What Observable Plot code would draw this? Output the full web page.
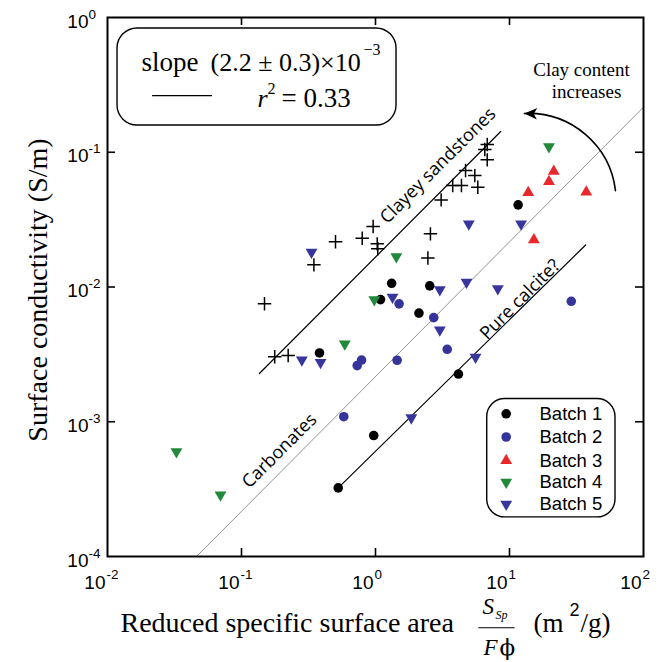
<!DOCTYPE html>
<html><head><meta charset="utf-8">
<script src="https://cdn.jsdelivr.net/npm/d3@7"></script>
<script src="https://cdn.jsdelivr.net/npm/@observablehq/plot@0.6"></script>
<style>html,body{margin:0;padding:0;background:#fff;}</style>
</head><body><div id="chart"></div>
<script>
// ---------- data ----------
const batch1X = [11.6, 1.32, 2.54, 1.09, 2.11, 0.382, 4.16, 0.97, 0.527];
const batch1Y = [0.0407, 0.01065, 0.0102, 0.00806, 0.0064, 0.00324, 0.00226, 0.00079, 0.000323];

const batch2X = [28.9, 1.50, 2.72, 3.43, 1.45, 0.787, 0.73, 0.58];
const batch2Y = [0.00783, 0.0075, 0.00593, 0.00345, 0.00286, 0.00287, 0.00261, 0.00109];

const batch3X = [21.4, 19.7, 13.8, 37.4, 15.2];
const batch3Y = [0.0723, 0.0606, 0.0502, 0.0507, 0.0224];

const batch4X = [19.7, 1.43, 0.98, 0.59, 0.0327, 0.0697];
const batch4Y = [0.110, 0.0168, 0.00806, 0.00378, 0.0006, 0.000286];

const batch5X = [0.333, 4.97, 12.2, 4.78, 8.18, 3.02, 1.34, 3.02, 5.58, 0.282, 0.389, 1.85];
const batch5Y = [0.0181, 0.0294, 0.0294, 0.01084, 0.00973, 0.00957, 0.0084, 0.00481, 0.00301, 0.00288, 0.00276, 0.00107];

const sandX = [6.82, 6.54, 6.82, 4.70, 5.51, 3.77, 4.38, 5.80, 3.09, 2.57, 2.46, 0.96, 0.796, 0.503, 1.03, 1.04, 0.347, 0.1485, 0.177, 0.223];
const sandY = [0.114, 0.1047, 0.0878, 0.0731, 0.0671, 0.0566, 0.0566, 0.0550, 0.0443, 0.0248, 0.0164, 0.0281, 0.0230, 0.0217, 0.0209, 0.0192, 0.0146, 0.0075, 0.00304, 0.0031];

// trend lines (end points)
const clayeyLineX = [0.136, 8.6];
const clayeyLineY = [0.00228, 0.1425];
const carbonateLineX = [0.0462, 100];
const carbonateLineY = [0.0001, 0.216];
const calciteLineX = [0.527, 37];
const calciteLineY = [0.000323, 0.0205];

const batchNames = ["Batch 1", "Batch 2", "Batch 3", "Batch 4", "Batch 5"];
const batchColors = ["#000000", "#35349a", "#e8282b", "#22883a", "#38369c"];
const batchShapes = ["circle", "circle", "up", "down", "down"];

const xTicks = [0.01, 0.1, 1, 10, 100];
const yTicks = [0.0001, 0.001, 0.01, 0.1, 1];

const lineLabels = ["Clayey sandstones", "Carbonates", "Pure calcite?"];
const lineLabelX = [2.92, 0.192, 12.0];
const lineLabelY = [0.0796, 0.00061, 0.0081];

const arrowStart = [61.8, 0.0519];
const arrowEnd = [12.9, 0.194];

const slopeBoxX = [0.01188, 1.435];
const slopeBoxY = [0.1579, 0.8286];
const slopeSampleX = [0.0217, 0.0608];
const slopeSampleY = 0.2636;
const legendBoxX = [6.82, 61.8];
const legendBoxY = [0.000195, 0.001476];
const fractionBarX = [5.9, 11.0];
const fractionBarY = 0.0000296;

// ---------- build tables ----------
const batchXs = [batch1X, batch2X, batch3X, batch4X, batch5X];
const batchYs = [batch1Y, batch2Y, batch3Y, batch4Y, batch5Y];
const sand = sandX.map((x, i) => ({x, y: sandY[i]}));
const lines = [
  {X: clayeyLineX, Y: clayeyLineY, stroke: "#000", w: 1.2},
  {X: carbonateLineX, Y: carbonateLineY, stroke: "#777", w: 0.8},
  {X: calciteLineX, Y: calciteLineY, stroke: "#000", w: 1.2}
];

const s3 = Math.sqrt(3);
const downTriangle = {
  draw(ctx, size) {
    const y = Math.sqrt(size / (s3 * 3));
    ctx.moveTo(0, y * 2);
    ctx.lineTo(-s3 * y, -y);
    ctx.lineTo(s3 * y, -y);
    ctx.closePath();
  }
};
const leftHead = {
  draw(ctx) {
    ctx.moveTo(0, 0);
    ctx.lineTo(13, -5.5);
    ctx.lineTo(9.5, 0.3);
    ctx.lineTo(12.5, 6);
    ctx.closePath();
  }
};
function symbolOf(k) { return k === "circle" ? "circle" : k === "up" ? "triangle" : downTriangle; }
function rOf(k) { return k === "circle" ? 4.8 : 4.4; }

const serif = "Liberation Serif, Times New Roman, serif";
const sans = "Liberation Sans, Arial, sans-serif";
const labelSans = "Open Sans, Noto Sans, sans-serif";

const marks = [];

// trend lines
for (const L of lines) {
  marks.push(Plot.line(L.X.map((x, i) => ({x, y: L.Y[i]})), {x: "x", y: "y", stroke: L.stroke, strokeWidth: L.w}));
}
// line labels
marks.push(Plot.text(lineLabels.map((t, i) => ({t, x: lineLabelX[i], y: lineLabelY[i]})), {
  x: "x", y: "y", text: "t", rotate: -45, fontSize: 18, fontFamily: labelSans, fill: "#000", textAnchor: "middle", lineAnchor: "middle"
}));

// slope box
marks.push(Plot.rect([{x1: slopeBoxX[0], x2: slopeBoxX[1], y1: slopeBoxY[0], y2: slopeBoxY[1]}], {
  x1: "x1", x2: "x2", y1: "y1", y2: "y2", fill: "white", stroke: "#000", strokeWidth: 1.4, rx: 20
}));
marks.push(Plot.ruleY([slopeSampleY], {y: d => d, x1: slopeSampleX[0], x2: slopeSampleX[1], stroke: "#000", strokeWidth: 1.2}));
marks.push(Plot.text(["slope"], {frameAnchor: "top-left", dx: 34, dy: 53, textAnchor: "start", lineAnchor: "bottom", fontSize: 27, fontFamily: serif}));
marks.push(Plot.text(["(2.2 ± 0.3)×10"], {frameAnchor: "top-left", dx: 103, dy: 53, textAnchor: "start", lineAnchor: "bottom", fontSize: 26, fontFamily: serif}));
marks.push(Plot.text(["−3"], {frameAnchor: "top-left", dx: 256, dy: 37, textAnchor: "start", lineAnchor: "bottom", fontSize: 16, fontFamily: serif}));
marks.push(Plot.text(["r"], {frameAnchor: "top-left", dx: 150, dy: 89, textAnchor: "start", lineAnchor: "bottom", fontSize: 26, fontFamily: serif, fontStyle: "italic"}));
marks.push(Plot.text(["2"], {frameAnchor: "top-left", dx: 160, dy: 76, textAnchor: "start", lineAnchor: "bottom", fontSize: 16, fontFamily: serif}));
marks.push(Plot.text(["= 0.33"], {frameAnchor: "top-left", dx: 174, dy: 89, textAnchor: "start", lineAnchor: "bottom", fontSize: 27, fontFamily: serif}));

// "Clay content increases" annotation
marks.push(Plot.arrow([{x1: arrowStart[0], y1: arrowStart[1], x2: arrowEnd[0], y2: arrowEnd[1]}], {
  x1: "x1", y1: "y1", x2: "x2", y2: "y2", bend: -43, headLength: 0, stroke: "#000", strokeWidth: 1.6
}));
marks.push(Plot.dot([arrowEnd], {x: d => d[0], y: d => d[1], symbol: leftHead, fill: "#000", stroke: "none", r: 3}));
marks.push(Plot.text(["Clay content"], {frameAnchor: "top-right", dx: -62, dy: 58, textAnchor: "middle", lineAnchor: "bottom", fontSize: 19, fontFamily: serif}));
marks.push(Plot.text(["increases"], {frameAnchor: "top-right", dx: -57, dy: 80, textAnchor: "middle", lineAnchor: "bottom", fontSize: 19, fontFamily: serif}));

// data points
marks.push(Plot.dot(sand, {x: "x", y: "y", symbol: "plus", r: 4.4, stroke: "#000", strokeWidth: 1.5, fill: "none"}));
batchXs.forEach((X, b) => {
  const data = X.map((x, i) => ({x, y: batchYs[b][i]}));
  marks.push(Plot.dot(data, {x: "x", y: "y", symbol: symbolOf(batchShapes[b]), r: rOf(batchShapes[b]), fill: batchColors[b], stroke: "none"}));
});

// batch legend
marks.push(Plot.rect([{x1: legendBoxX[0], x2: legendBoxX[1], y1: legendBoxY[0], y2: legendBoxY[1]}], {
  x1: "x1", x2: "x2", y1: "y1", y2: "y2", fill: "white", stroke: "#000", strokeWidth: 1.4, rx: 18
}));
const legendRowDy = [-142.7, -119.5, -95.8, -74.3, -52.3];
batchNames.forEach((name, b) => {
  marks.push(Plot.dot([name], {frameAnchor: "bottom-right", dx: -137.3, dy: legendRowDy[b], symbol: symbolOf(batchShapes[b]), r: rOf(batchShapes[b]), fill: batchColors[b], stroke: "none"}));
  marks.push(Plot.text([name], {frameAnchor: "bottom-right", dx: -104, dy: legendRowDy[b], text: d => d, textAnchor: "start", lineAnchor: "middle", fontSize: 18.5, fontFamily: sans}));
});

// frame & inward ticks
marks.push(Plot.frame({stroke: "#000", strokeWidth: 2}));
const innerX = xTicks.slice(1, -1), innerY = yTicks.slice(1, -1);
marks.push(Plot.tickX(innerX, {x: d => d, insetTop: 531, stroke: "#000", strokeWidth: 1.6}));
marks.push(Plot.tickX(innerX, {x: d => d, insetBottom: 531, stroke: "#000", strokeWidth: 1.6}));
marks.push(Plot.tickY(innerY, {y: d => d, insetRight: 528, stroke: "#000", strokeWidth: 1.6}));
marks.push(Plot.tickY(innerY, {y: d => d, insetLeft: 528, stroke: "#000", strokeWidth: 1.6}));

// tick labels
const expo = d => String(Math.round(Math.log10(d)));
marks.push(Plot.text(xTicks, {x: d => d, text: () => "10", frameAnchor: "bottom", dx: -2, dy: 32, textAnchor: "end", lineAnchor: "bottom", fontSize: 19, fontFamily: sans}));
marks.push(Plot.text(xTicks, {x: d => d, text: expo, frameAnchor: "bottom", dx: -1, dy: 22, textAnchor: "start", lineAnchor: "bottom", fontSize: 13.5, fontFamily: sans}));
marks.push(Plot.text(yTicks, {y: d => d, text: () => "10", frameAnchor: "left", dx: -19, dy: 10, textAnchor: "end", lineAnchor: "bottom", fontSize: 19, fontFamily: sans}));
marks.push(Plot.text(yTicks, {y: d => d, text: expo, frameAnchor: "left", dx: -19, dy: 1, textAnchor: "start", lineAnchor: "bottom", fontSize: 13.5, fontFamily: sans}));

// axis titles
marks.push(Plot.text(["Surface conductivity (S/m)"], {frameAnchor: "left", dx: -69, dy: 3, rotate: -90, textAnchor: "middle", lineAnchor: "middle", fontSize: 28, fontFamily: serif}));
marks.push(Plot.text(["Reduced specific surface area"], {frameAnchor: "bottom-left", dx: 13, dy: 75, textAnchor: "start", lineAnchor: "bottom", fontSize: 28, fontFamily: serif}));
marks.push(Plot.text(["S"], {frameAnchor: "bottom-left", dx: 375, dy: 57, textAnchor: "start", lineAnchor: "bottom", fontSize: 23, fontFamily: serif, fontStyle: "italic"}));
marks.push(Plot.text(["Sp"], {frameAnchor: "bottom-left", dx: 388, dy: 62, textAnchor: "start", lineAnchor: "bottom", fontSize: 12, fontFamily: serif, fontStyle: "italic"}));
marks.push(Plot.ruleY([fractionBarY], {y: d => d, x1: fractionBarX[0], x2: fractionBarX[1], stroke: "#000", strokeWidth: 1.2}));
marks.push(Plot.text(["F"], {frameAnchor: "bottom-left", dx: 376, dy: 98, textAnchor: "start", lineAnchor: "bottom", fontSize: 23, fontFamily: serif, fontStyle: "italic"}));
marks.push(Plot.text(["ϕ"], {frameAnchor: "bottom-left", dx: 392, dy: 98, textAnchor: "start", lineAnchor: "bottom", fontSize: 23, fontFamily: "DejaVu Serif, Liberation Serif, serif"}));
marks.push(Plot.text(["(m"], {frameAnchor: "bottom-left", dx: 426, dy: 75, textAnchor: "start", lineAnchor: "bottom", fontSize: 27, fontFamily: serif}));
marks.push(Plot.text(["2"], {frameAnchor: "bottom-left", dx: 462, dy: 59, textAnchor: "start", lineAnchor: "bottom", fontSize: 18, fontFamily: sans}));
marks.push(Plot.text(["/g)"], {frameAnchor: "bottom-left", dx: 473, dy: 75, textAnchor: "start", lineAnchor: "bottom", fontSize: 27, fontFamily: serif}));

const chart = Plot.plot({
  width: 662, height: 662,
  marginLeft: 107, marginRight: 19, marginTop: 17, marginBottom: 106,
  x: {type: "log", domain: [0.01, 100], axis: null},
  y: {type: "log", domain: [0.0001, 1], axis: null},
  style: {background: "white", fontFamily: sans, color: "#000", overflow: "visible"},
  marks
});
document.getElementById("chart").appendChild(chart);
</script>
</body></html>
